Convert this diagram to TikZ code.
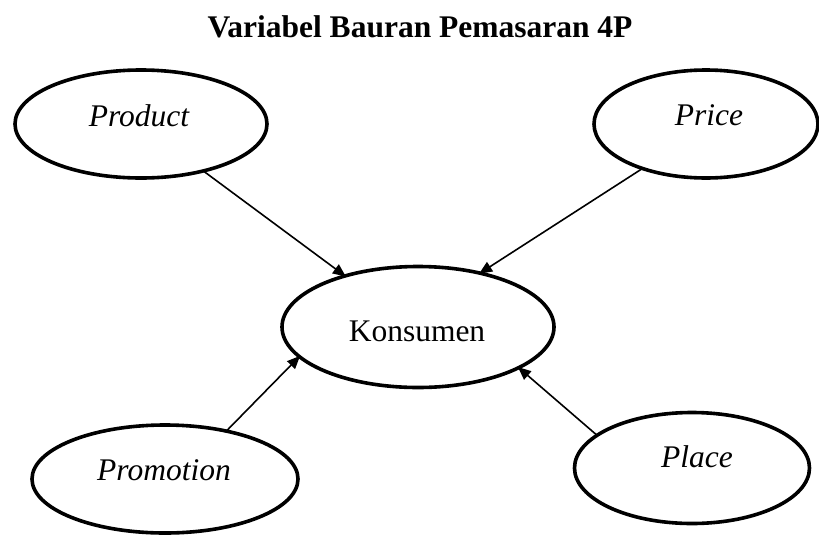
\documentclass[tikz,border=0pt]{standalone}
\usepackage{fontspec}
\setmainfont{Liberation Serif}
\usetikzlibrary{shapes.geometric,arrows.meta}
\tikzset{
  oval/.style={draw=black, ellipse, line width=3.6pt, inner sep=0pt, outer sep=0pt},
  lbl/.style={anchor=base, inner sep=0pt, font=\fontsize{31.5}{36}\selectfont},
  conn/.style={line width=1.6pt, -{Triangle[length=13pt,width=11pt]}, shorten >=-1pt},
}
\begin{document}
\begin{tikzpicture}[x=1pt,y=-1pt]
\useasboundingbox (0,0) rectangle (819,536);
\node[lbl, font=\fontsize{31.5}{36}\selectfont\bfseries] (title) at (420,37) {Variabel Bauran Pemasaran 4P};
\node[oval, minimum width=252pt, minimum height=108pt] (prod) at (141,124) {};
\node[oval, minimum width=224pt, minimum height=108pt] (price) at (706,124) {};
\node[oval, minimum width=272pt, minimum height=121pt] (kons) at (418,327) {};
\node[oval, minimum width=266pt, minimum height=108pt] (promo) at (165,479) {};
\node[oval, minimum width=235pt, minimum height=111pt] (place) at (692,468) {};
\node[lbl] (tprod) at (139,126) {\itshape Product};
\node[lbl] (tprice) at (709,125) {\itshape Price};
\node[lbl] (tkons) at (417,341) {Konsumen};
\node[lbl] (tpromo) at (164,480) {\itshape Promotion};
\node[lbl] (tplace) at (697,467) {\itshape Place};
\draw[conn] (prod.-37.8) -- (kons.145.8);
\draw[conn] (price.215.2) -- (kons.41.3);
\draw[conn] (promo.38.5) -- (kons.194.1);
\draw[conn] (place.161.6) -- (kons.-22.5);
\end{tikzpicture}
\end{document}
